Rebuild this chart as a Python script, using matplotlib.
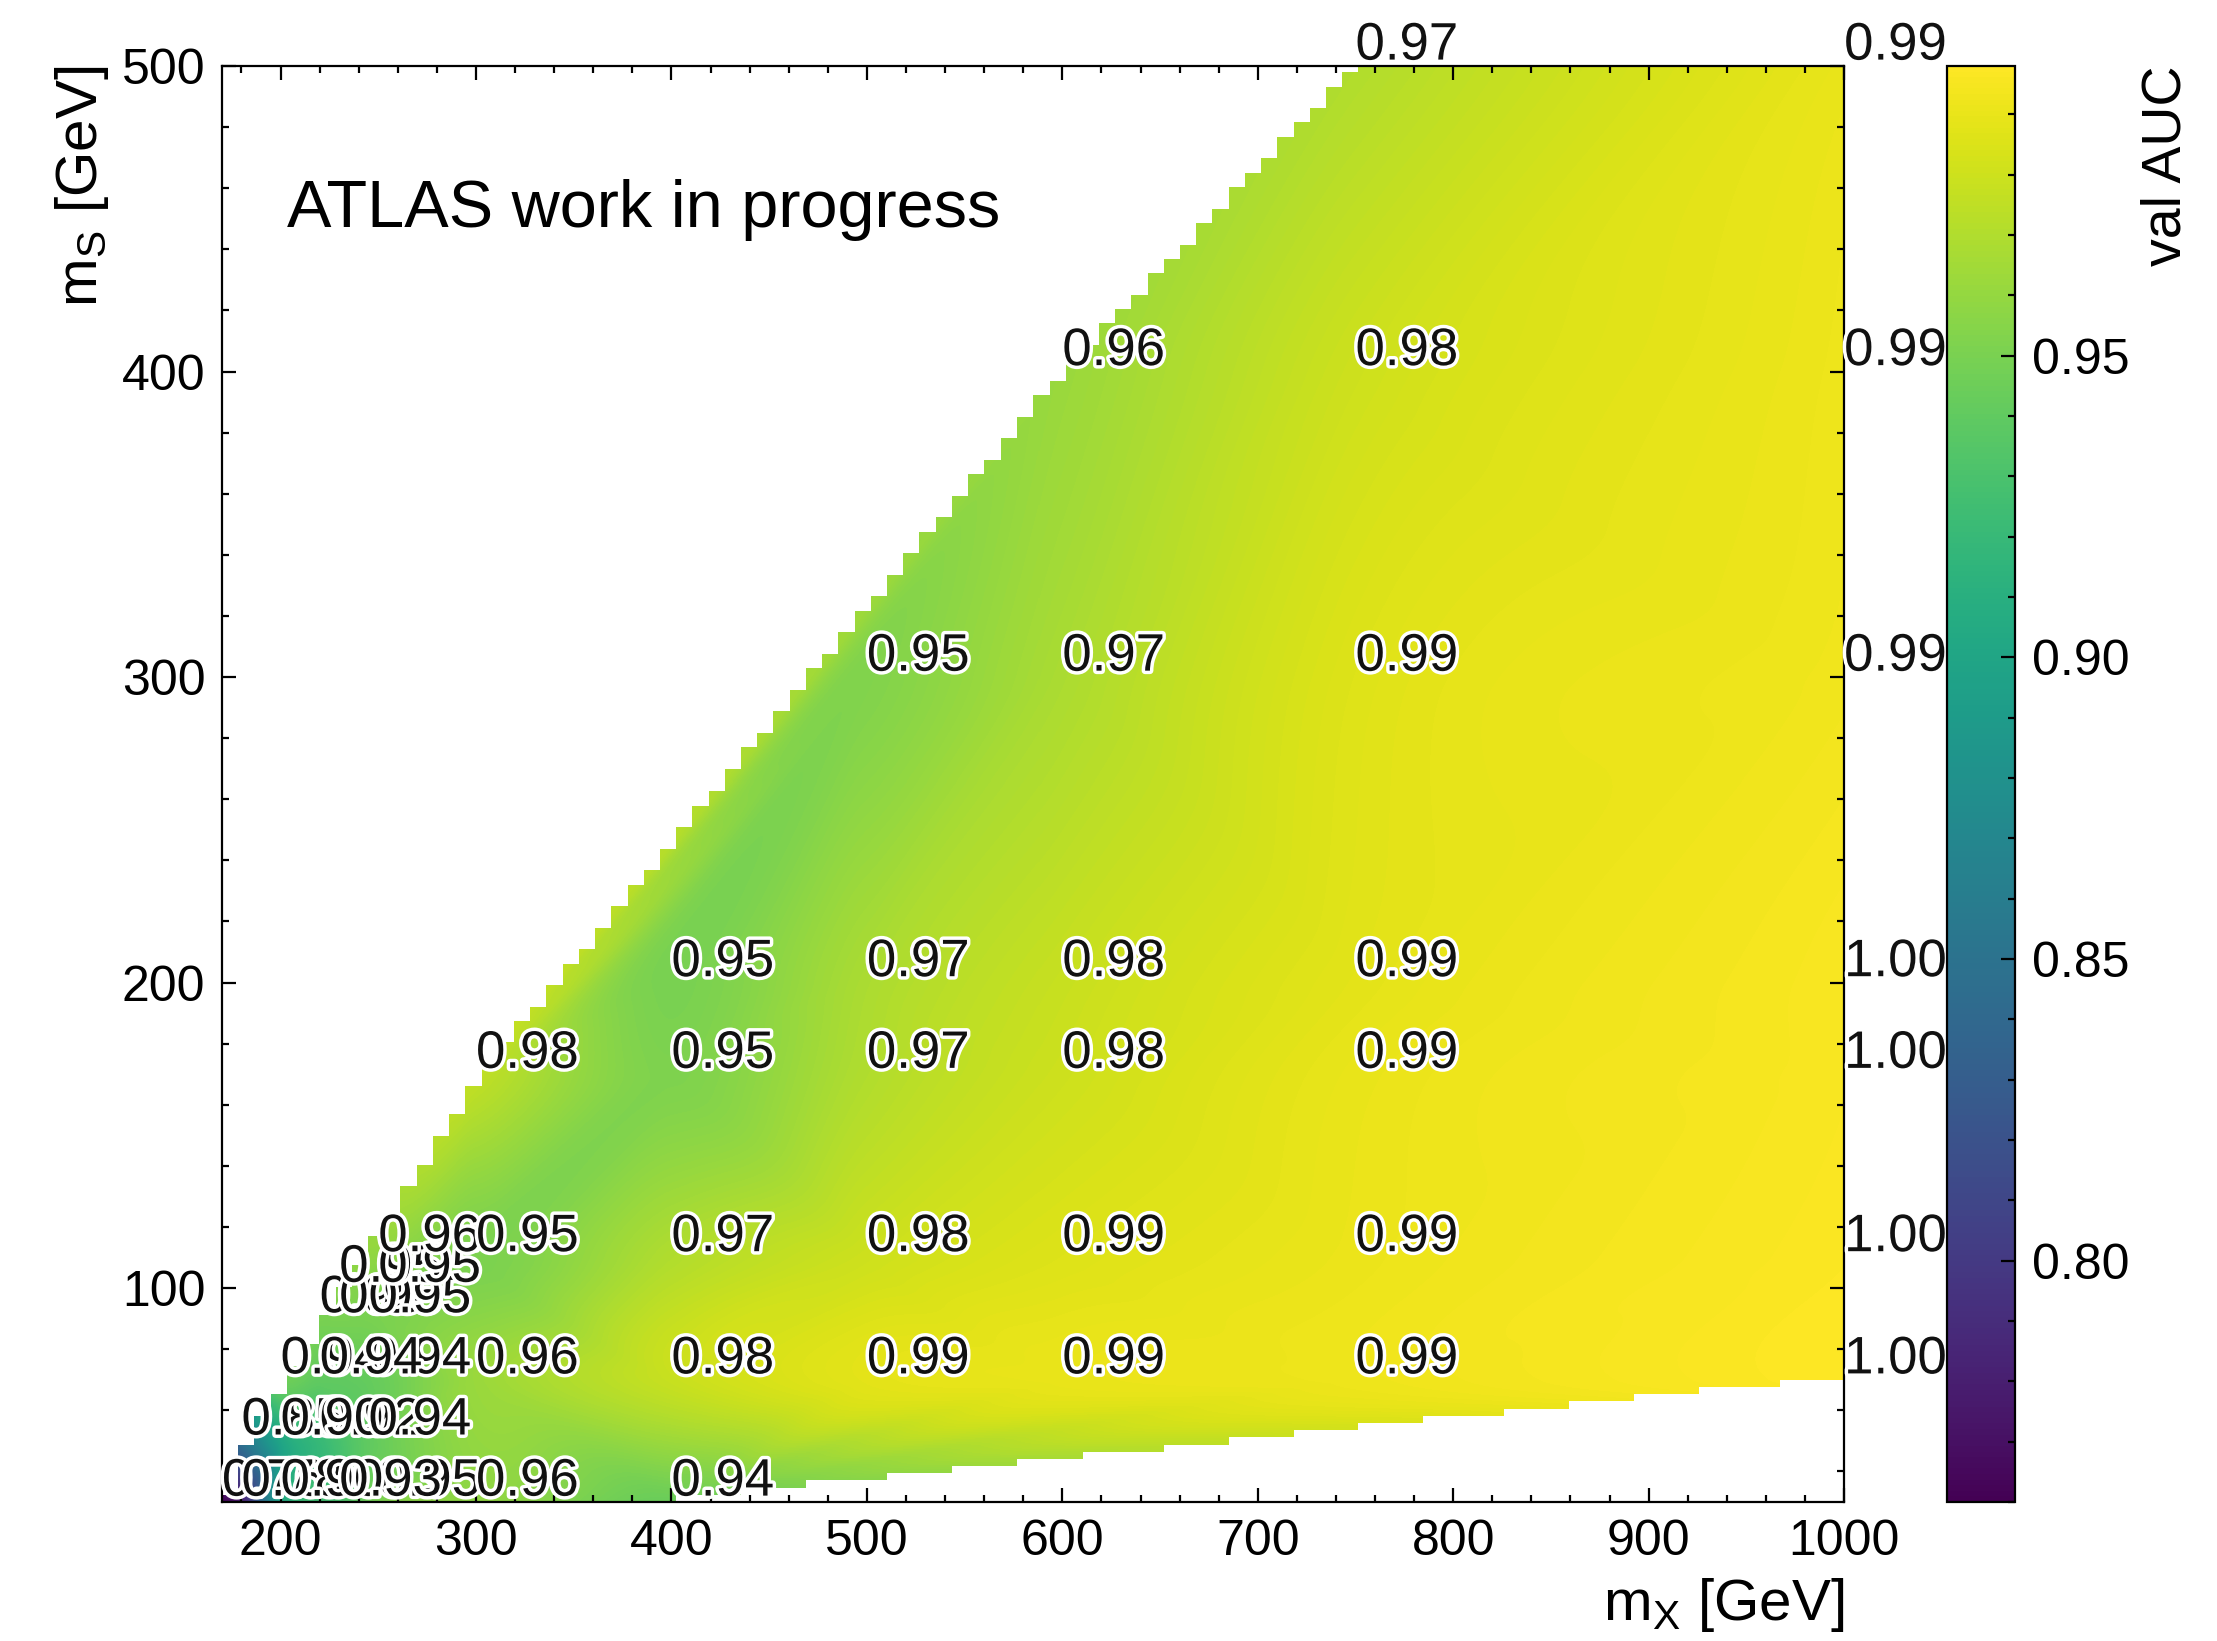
import numpy as np
import matplotlib
matplotlib.use("Agg")
import matplotlib.pyplot as plt
import matplotlib.tri as mtri
import matplotlib.patheffects as pe
from matplotlib.ticker import MultipleLocator, FormatStrFormatter

plt.rcParams["font.family"] = ["Liberation Sans", "DejaVu Sans"]
plt.rcParams["mathtext.fontset"] = "custom"
plt.rcParams["mathtext.rm"] = "Liberation Sans"

# Signal mass points (GeV) and validation AUC, in sample-list order
m_x = [170, 180, 250, 200, 230, 300, 400,
       180, 220, 200, 245,
       200, 245, 220, 300, 400, 500, 600, 750, 1000,
       220, 230, 245,
       230, 250,
       250, 300, 400, 500, 600, 750, 1000,
       300, 400, 500, 600, 750, 1000,
       400, 500, 600, 750, 1000,
       500, 600, 750, 1000,
       600, 750, 1000,
       750, 1000]
m_s = [30, 30, 30, 30, 30, 30, 30,
       50, 50, 50, 50,
       70, 70, 70, 70, 70, 70, 70, 70, 70,
       90, 90, 90,
       100, 100,
       110, 110, 110, 110, 110, 110, 110,
       170, 170, 170, 170, 170, 170,
       200, 200, 200, 200, 200,
       300, 300, 300, 300,
       400, 400, 400,
       500, 500]
val_auc = [0.760, 0.780, 0.950, 0.900, 0.930, 0.958, 0.944,
           0.850, 0.920, 0.900, 0.940,
           0.945, 0.942, 0.940, 0.962, 0.978, 0.988, 0.990, 0.992, 0.998,
           0.950, 0.950, 0.950,
           0.955, 0.952,
           0.958, 0.951, 0.970, 0.980, 0.986, 0.991, 0.997,
           0.976, 0.952, 0.970, 0.980, 0.990, 0.996,
           0.950, 0.968, 0.978, 0.988, 0.996,
           0.953, 0.968, 0.986, 0.993,
           0.962, 0.980, 0.992,
           0.970, 0.990]

x0, x1 = min(m_x), max(m_x)
y0, y1 = min(m_s), max(m_s)

# Smooth interpolation over the triangulated mass plane
# (only zero-area triangles from collinear border points are dropped)
tri = mtri.Triangulation(m_x, m_s)
tri.set_mask(mtri.TriAnalyzer(tri).get_flat_tri_mask(1e-4))
interp = mtri.CubicTriInterpolator(tri, val_auc, kind="geom")

# Coarse 100 x 200 sampling decides which cells are inside the scanned region
nx_c, ny_c = 100, 200
gx = np.linspace(x0, x1, nx_c)
gy = np.linspace(y0, y1, ny_c)
Zc = interp(*np.meshgrid(gx, gy))

# Fine sampling (one value per output pixel) for the colour field
nx_f, ny_f = 1622, 1436
fx = x0 + (np.arange(nx_f) + 0.5) * (x1 - x0) / nx_f
fy = y0 + (np.arange(ny_f) + 0.5) * (y1 - y0) / ny_f
Zf = interp(*np.meshgrid(fx, fy))
ci = np.clip(((fx - x0) / ((x1 - x0) / nx_c)).astype(int), 0, nx_c - 1)
cj = np.clip(((fy - y0) / ((y1 - y0) / ny_c)).astype(int), 0, ny_c - 1)
cell_vals = Zc.filled(np.nan)[np.ix_(cj, ci)]
cell_mask = np.ma.getmaskarray(Zc)[np.ix_(cj, ci)]
fine_vals = np.where(np.ma.getmaskarray(Zf), cell_vals, Zf.filled(np.nan))
field = np.ma.masked_array(fine_vals, mask=cell_mask | np.isnan(fine_vals))

fig = plt.figure(figsize=(2217 / 200, 1641 / 200), dpi=200)
ax = fig.add_axes([0.1001, 0.0847, 0.7317, 0.8751])
cax = fig.add_axes([0.8782, 0.0847, 0.0307, 0.8751])

im = ax.imshow(field, origin="lower", extent=(x0, x1, y0, y1),
               aspect="auto", cmap="viridis", interpolation="nearest",
               vmin=min(val_auc), vmax=max(val_auc))

stroke = [pe.withStroke(linewidth=2.5, foreground="white")]
for x, y, v in zip(m_x, m_s, val_auc):
    ax.annotate(f"{v:.2f}", (x, y), xytext=(0, 2.3), textcoords="offset points",
                ha="left", va="baseline", fontsize=19, color="#111111",
                path_effects=stroke, annotation_clip=False)

ax.text(0.04, 0.90, "ATLAS work in progress", transform=ax.transAxes,
        fontsize=24, ha="left", va="center")

ax.set_xlim(x0, x1)
ax.set_ylim(y0, y1)
ax.xaxis.set_major_locator(MultipleLocator(100))
ax.xaxis.set_minor_locator(MultipleLocator(20))
ax.yaxis.set_major_locator(MultipleLocator(100))
ax.yaxis.set_minor_locator(MultipleLocator(20))
ax.tick_params(which="both", direction="in", top=True, right=True,
               labelsize=18, width=0.8, pad=6)
ax.tick_params(which="major", length=5)
ax.tick_params(which="minor", length=2.6)
for sp in ax.spines.values():
    sp.set_linewidth(0.8)

ax.set_xlabel(r"m$_\mathregular{X}$ [GeV]", loc="right", fontsize=21)
ax.set_ylabel(r"m$_\mathregular{S}$ [GeV]", loc="top", fontsize=21)

cb = fig.colorbar(im, cax=cax)
cb.set_label("val AUC", loc="top", fontsize=20)
cb.locator = MultipleLocator(0.05)
cb.formatter = FormatStrFormatter("%.2f")
cb.update_ticks()
cax.yaxis.set_minor_locator(MultipleLocator(0.01))
cax.tick_params(which="both", direction="in", labelsize=18, width=0.8, pad=6)
cax.tick_params(which="major", length=5)
cax.tick_params(which="minor", length=2.6)
cb.outline.set_linewidth(0.8)

fig.savefig("out.png", dpi=200)
